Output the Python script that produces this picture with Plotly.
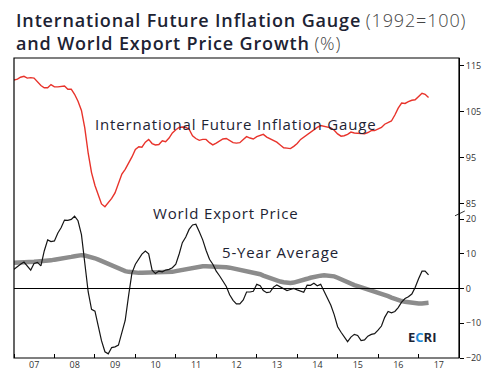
import pandas as pd
import plotly.graph_objects as go

# ---- data (monthly, Jan 2007 .. Apr 2017) ----
START_MONTH = "2007-01-01"

IFIG = [111.9, 112.1, 112.5, 112.7, 112.3, 112.4, 112.3, 111.5, 110.7, 110.2, 110.2, 110.9,
        110.4, 110.4, 110.5, 110.6, 109.9, 109.9, 108.8, 107.3, 105.3, 101.5, 96.0, 91.8,
        89.0, 86.8, 85.0, 84.4, 85.2, 86.2, 87.4, 89.5, 91.5, 92.5, 93.8, 95.2,
        96.8, 97.4, 97.3, 98.4, 99.0, 98.1, 97.8, 97.9, 98.7, 98.5, 99.3, 100.4,
        101.1, 101.6, 101.7, 101.6, 101.2, 99.8, 99.2, 98.8, 99.0, 99.0, 98.3, 97.8,
        98.2, 98.6, 99.1, 99.2, 98.8, 98.3, 98.2, 98.3, 99.0, 99.6, 99.3, 99.1,
        99.6, 99.9, 100.1, 99.5, 99.1, 98.8, 98.4, 97.8, 97.2, 97.1, 97.0, 97.5,
        98.1, 99.0, 99.5, 99.9, 100.6, 101.1, 101.6, 102.0, 101.8, 101.7, 101.5, 101.0,
        100.2, 99.7, 99.8, 100.1, 100.6, 100.4, 100.3, 100.3, 100.2, 100.5, 100.9, 100.9,
        101.2, 101.6, 102.3, 102.7, 103.0, 104.3, 105.8, 106.9, 106.8, 107.2, 107.5, 107.6,
        108.3, 109.0, 108.8, 108.1]

EXPORT_PRICE = [5.5, 6.4, 7.0, 7.6, 6.5, 5.3, 7.2, 7.5, 6.5, 10.8, 14.0, 13.5,
                13.7, 16.0, 17.5, 19.7, 19.6, 19.9, 20.8, 19.5, 15.5, 8.0, -1.0, -6.0,
                -6.5, -11.0, -15.0, -18.2, -18.8, -17.0, -16.8, -16.3, -12.5, -9.2, -2.0, 4.5,
                7.0, 8.5, 9.9, 10.8, 10.0, 5.3, 4.3, 5.0, 4.8, 5.3, 5.5, 6.0,
                7.0, 10.0, 13.2, 14.8, 17.0, 18.3, 18.5, 16.3, 14.0, 11.0, 8.4, 7.0,
                5.0, 3.6, 2.3, 0.6, -1.8, -3.4, -4.4, -4.4, -3.3, -1.0, -1.0, -0.8,
                1.2, 0.8, -0.6, -1.2, -1.0, 0.4, 1.0, 0.4, 0.0, -0.6, -0.3, 0.0,
                -0.4, -0.8, -1.1, 1.0, 0.9, 1.5, 0.8, 1.2, -0.8, -3.0, -4.8, -7.5,
                -11.0, -12.6, -14.0, -15.3, -14.0, -13.2, -13.5, -15.0, -14.8, -13.7, -13.2, -13.0,
                -12.0, -10.8, -8.3, -6.6, -7.0, -6.6, -5.5, -3.9, -2.9, -2.4, -1.6, 0.3,
                2.8, 5.0, 5.0, 3.9]

FIVE_YEAR_AVG = [7.4, 7.4, 7.5, 7.5, 7.6, 7.7, 7.7, 7.8, 7.8, 7.9, 8.0, 8.1,
                 8.3, 8.4, 8.6, 8.8, 8.9, 9.1, 9.3, 9.5, 9.6, 9.5, 9.3, 9.0,
                 8.7, 8.3, 7.9, 7.4, 7.0, 6.6, 6.2, 5.7, 5.3, 5.0, 4.8, 4.6,
                 4.5, 4.5, 4.5, 4.5, 4.5, 4.6, 4.6, 4.6, 4.6, 4.5, 4.6, 4.8,
                 5.0, 5.2, 5.4, 5.6, 5.8, 6.0, 6.2, 6.3, 6.4, 6.4, 6.4, 6.4,
                 6.4, 6.3, 6.2, 6.1, 6.0, 5.8, 5.6, 5.4, 5.2, 5.1, 5.0, 4.8,
                 4.5, 4.1, 3.7, 3.3, 3.0, 2.8, 2.4, 2.0, 1.8, 1.6, 1.6, 1.7,
                 1.9, 2.1, 2.4, 2.8, 3.1, 3.4, 3.6, 3.7, 3.8, 3.8, 3.7, 3.5,
                 3.1, 2.6, 2.2, 1.8, 1.4, 1.0, 0.7, 0.4, 0.1, -0.3, -0.6, -0.9,
                 -1.2, -1.5, -1.9, -2.2, -2.6, -3.0, -3.3, -3.6, -3.8, -4.0, -4.1, -4.2,
                 -4.3, -4.3, -4.2, -4.1]

TOP_TICKS = [85, 95, 105, 115]
BOTTOM_TICKS = [-20, -10, 0, 10, 20]

dates = pd.date_range(START_MONTH, periods=len(IFIG), freq="MS")

RED = "#e8332b"
NAVY = "#1d2333"
FONT = "Open Sans"

fig = go.Figure()
fig.add_trace(go.Scatter(x=dates, y=FIVE_YEAR_AVG, mode="lines", yaxis="y2",
                         line=dict(color="#8c8c8c", width=4.5), hoverinfo="skip"))
fig.add_trace(go.Scatter(x=dates, y=EXPORT_PRICE, mode="lines", yaxis="y2",
                         line=dict(color="#151515", width=1.2)))
fig.add_trace(go.Scatter(x=dates, y=IFIG, mode="lines", yaxis="y",
                         line=dict(color=RED, width=1.4)))

tickfont = dict(family=FONT, size=9, color="#333333")

# the page body adds an 8px margin, so the figure is sized to fit the window
fig.update_layout(
    width=479, height=369,
    margin=dict(l=6, r=23, t=50, b=19),
    paper_bgcolor="white", plot_bgcolor="white",
    showlegend=False,
    font=dict(family=FONT, color=NAVY),
    xaxis=dict(type="date", anchor="y2", range=["2007-01-01", "2018-01-01"], dtick="M12",
               tickformat="%y", ticklabelmode="period", ticks="inside", ticklen=4,
               tickcolor="black", tickwidth=1, showgrid=False, zeroline=False,
               showline=False, tickfont=tickfont),
    yaxis=dict(domain=[0.4767, 1.0], range=[82.6, 116.67], side="right",
               tickvals=TOP_TICKS, ticks="outside", ticklen=4, tickcolor="black",
               showgrid=False, zeroline=False, showline=True, linecolor="black",
               linewidth=1, tickfont=tickfont),
    yaxis2=dict(domain=[0.0, 0.4933], range=[-20, 22.59], side="right", anchor="x",
                tickvals=BOTTOM_TICKS, ticks="outside", ticklen=4, tickcolor="black",
                showgrid=False, zeroline=False, showline=True, linecolor="black",
                linewidth=1, tickfont=tickfont),
)

# frame and zero line
fig.add_shape(type="rect", xref="paper", yref="paper", x0=0, x1=1, y0=0, y1=1,
              line=dict(color="black", width=1.2), layer="above")
fig.add_shape(type="line", xref="paper", yref="y2", x0=0, x1=1, y0=0, y1=0,
              line=dict(color="black", width=1))
# axis break mark
fig.add_shape(type="line", xref="paper", yref="paper", x0=0.991, x1=1.013,
              y0=0.474, y1=0.49, line=dict(color="black", width=0.8))

# two-line title in one text block
title_style = "font-weight:600;letter-spacing:0.85px"
paren_style = "font-weight:300;color:#444444;letter-spacing:0.85px"
fig.add_annotation(xref="paper", yref="paper", x=0.0, y=1.0883, xanchor="left",
                   yanchor="middle", showarrow=False, align="left",
                   text=f"<span style='{title_style}'>International Future Inflation Gauge</span> "
                        f"<span style='{paren_style}'>(1992=100)</span><br>"
                        f"<span style='{title_style}'>and World Export Price Growth</span> "
                        f"<span style='{paren_style}'>(%)</span>",
                   font=dict(family=FONT, size=18, color=NAVY))

# series labels
label_style = "letter-spacing:0.85px"
fig.add_annotation(xref="paper", yref="paper", x=0.4978, y=0.82, showarrow=False,
                   text=f"<span style='{label_style}'>International Future Inflation Gauge</span>",
                   font=dict(family=FONT, size=15, color=NAVY))
fig.add_annotation(xref="paper", yref="paper", x=0.4756, y=0.4833, showarrow=False,
                   text=f"<span style='{label_style}'>World Export Price</span>",
                   font=dict(family=FONT, size=15, color=NAVY))
fig.add_annotation(xref="paper", yref="paper", x=0.7344, y=0.3133, showarrow=False,
                   text=f"<span style='{label_style}'>5-Year Average</span>",
                   font=dict(family=FONT, size=15, color=NAVY))
fig.add_annotation(xref="paper", yref="paper", x=0.952, y=0.0333, showarrow=False,
                   text="<b>E<span style='color:#1f8ad6'>C</span>RI</b>",
                   font=dict(family=FONT, size=13, color=NAVY))

fig.write_html("out.html")
